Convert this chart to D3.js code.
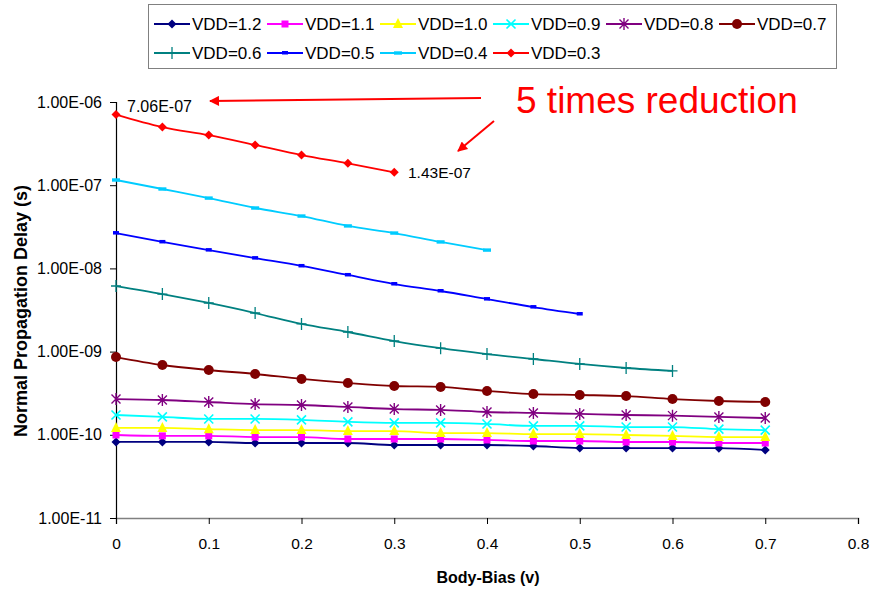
<!DOCTYPE html>
<html>
<head>
<meta charset="utf-8">
<script src="https://cdn.jsdelivr.net/npm/d3@7"></script>
<style>
body { margin: 0; background: #fff; }
text { font-family: "Liberation Sans", Arial, sans-serif; }
</style>
</head>
<body>
<div id="chart"></div>
<script>
var svgWidth = 874;
var svgHeight = 591;

// data
var bodyBias = [0, 0.05, 0.1, 0.15, 0.2, 0.25, 0.3, 0.35, 0.4, 0.45, 0.5, 0.55, 0.6, 0.65, 0.7];
var seriesNames = ["VDD=1.2", "VDD=1.1", "VDD=1.0", "VDD=0.9", "VDD=0.8", "VDD=0.7",
                   "VDD=0.6", "VDD=0.5", "VDD=0.4", "VDD=0.3"];
var vdd12 = [8.2e-11, 8.2e-11, 8.2e-11, 7.97e-11, 7.97e-11, 7.97e-11, 7.54e-11, 7.54e-11, 7.54e-11, 7.33e-11, 6.93e-11, 6.93e-11, 6.93e-11, 6.9e-11, 6.56e-11];
var vdd11 = [9.95e-11, 9.7e-11, 9.7e-11, 9.4e-11, 9.4e-11, 8.9e-11, 8.9e-11, 8.9e-11, 8.67e-11, 8.42e-11, 8.42e-11, 8.19e-11, 8.19e-11, 7.97e-11, 7.97e-11];
var vdd10 = [1.21e-10, 1.21e-10, 1.17e-10, 1.14e-10, 1.14e-10, 1.11e-10, 1.11e-10, 1.05e-10, 1.05e-10, 1.02e-10, 1.02e-10, 9.95e-11, 9.7e-11, 9.4e-11, 9.4e-11];
var vdd09 = [1.73e-10, 1.64e-10, 1.55e-10, 1.55e-10, 1.51e-10, 1.43e-10, 1.39e-10, 1.39e-10, 1.35e-10, 1.28e-10, 1.28e-10, 1.24e-10, 1.24e-10, 1.17e-10, 1.14e-10];
var vdd08 = [2.69e-10, 2.62e-10, 2.48e-10, 2.34e-10, 2.28e-10, 2.16e-10, 2.04e-10, 1.99e-10, 1.88e-10, 1.83e-10, 1.78e-10, 1.73e-10, 1.70e-10, 1.64e-10, 1.59e-10];
var vdd07 = [8.61e-10, 6.9e-10, 6.01e-10, 5.38e-10, 4.69e-10, 4.2e-10, 3.86e-10, 3.76e-10, 3.36e-10, 3.09e-10, 3.01e-10, 2.92e-10, 2.69e-10, 2.55e-10, 2.48e-10];
var vdd06 = [6.14e-9, 4.92e-9, 3.84e-9, 2.91e-9, 2.15e-9, 1.72e-9, 1.34e-9, 1.1e-9, 9.35e-10, 8.15e-10, 7.1e-10, 6.35e-10, 5.85e-10];
var vdd05 = [2.66e-8, 2.08e-8, 1.66e-8, 1.33e-8, 1.07e-8, 8.34e-9, 6.49e-9, 5.35e-9, 4.28e-9, 3.43e-9, 2.83e-9];
var vdd04 = [1.155e-7, 9.0e-8, 7.0e-8, 5.32e-8, 4.26e-8, 3.24e-8, 2.66e-8, 2.08e-8, 1.66e-8];
var vdd03 = [7.06e-7, 5.0e-7, 4.0e-7, 3.05e-7, 2.3e-7, 1.83e-7, 1.43e-7];

var xTicks = [0, 0.1, 0.2, 0.3, 0.4, 0.5, 0.6, 0.7, 0.8];
var yTicks = [1e-11, 1e-10, 1e-9, 1e-8, 1e-7, 1e-6];
var yTickLabels = ["1.00E-11", "1.00E-10", "1.00E-09", "1.00E-08", "1.00E-07", "1.00E-06"];

var allSeries = [vdd12, vdd11, vdd10, vdd09, vdd08, vdd07, vdd06, vdd05, vdd04, vdd03];
var colors = ["#000080", "#FF00FF", "#FFFF00", "#00FFFF", "#800080", "#800000",
              "#008080", "#0000FF", "#00CCFF", "#FF0000"];
var markers = ["diamond", "square", "triangle", "x", "star", "circle", "plus", "dash", "wdash", "diamond"];

var svg = d3.select("#chart")
  .append("svg")
  .attr("width", svgWidth)
  .attr("height", svgHeight);

var xScale = d3.scaleLinear().domain([0, 0.8]).range([116, 858]);
var yScale = d3.scaleLog().domain([1e-11, 1e-6]).range([518, 102]);

// axes
var xAxis = svg.append("g")
  .attr("transform", "translate(0,518)")
  .call(d3.axisBottom(xScale).tickValues(xTicks).tickSize(6).tickPadding(14)
    .tickFormat(d => d === 0 ? "0" : d3.format(".1f")(d)));
xAxis.select(".domain").attr("stroke", "#808080").attr("stroke-width", 1.5);
xAxis.selectAll(".tick line").attr("stroke", "#000");
xAxis.selectAll("text").attr("font-size", 15.5).attr("fill", "#000")
  .style("font-family", "'Liberation Sans', Arial, sans-serif");

var yAxis = svg.append("g")
  .attr("transform", "translate(116,0)")
  .call(d3.axisLeft(yScale).tickValues(yTicks).tickSize(6).tickPadding(8)
    .tickFormat((d, i) => yTickLabels[i]));
yAxis.select(".domain").attr("stroke", "#000").attr("stroke-width", 1.2);
yAxis.selectAll("text").attr("font-size", 16).attr("fill", "#000")
  .style("font-family", "'Liberation Sans', Arial, sans-serif");

// axis titles
svg.append("text")
  .attr("x", 488).attr("y", 583)
  .attr("text-anchor", "middle")
  .attr("font-size", 16).attr("font-weight", "bold")
  .text("Body-Bias (v)");

svg.append("text")
  .attr("transform", "translate(27,311) rotate(-90)")
  .attr("text-anchor", "middle")
  .attr("font-size", 18).attr("font-weight", "bold")
  .text("Normal Propagation Delay (s)");

function drawMarker(g, type, color) {
  if (type === "diamond") {
    g.append("path").attr("d", "M0,-4.5L4.5,0L0,4.5L-4.5,0Z").attr("fill", color);
  } else if (type === "square") {
    g.append("rect").attr("x", -3.5).attr("y", -3.5).attr("width", 7).attr("height", 7).attr("fill", color);
  } else if (type === "triangle") {
    g.append("path").attr("d", "M0,-6L5,4L-5,4Z").attr("fill", color);
  } else if (type === "x") {
    g.append("path").attr("d", "M-4.5,-4.5L4.5,4.5M-4.5,4.5L4.5,-4.5")
      .attr("stroke", color).attr("stroke-width", 1.6);
  } else if (type === "star") {
    g.append("path").attr("d", "M-4.5,-4.5L4.5,4.5M-4.5,4.5L4.5,-4.5M0,-6L0,6")
      .attr("stroke", color).attr("stroke-width", 1.4);
  } else if (type === "circle") {
    g.append("circle").attr("r", 5).attr("fill", color);
  } else if (type === "plus") {
    g.append("path").attr("d", "M-5,0L5,0M0,-6L0,6")
      .attr("stroke", color).attr("stroke-width", 1.3);
  } else if (type === "dash") {
    g.append("rect").attr("x", -3).attr("y", -2).attr("width", 6).attr("height", 3.5).attr("fill", color);
  } else if (type === "wdash") {
    g.append("rect").attr("x", -4).attr("y", -1.7).attr("width", 8).attr("height", 3.4).attr("fill", color);
  }
}

var line = d3.line()
  .x(d => xScale(d.x))
  .y(d => yScale(d.y))
  .curve(d3.curveMonotoneX);

allSeries.forEach(function(vals, i) {
  var pts = vals.map((v, j) => ({x: bodyBias[j], y: v}));
  svg.append("path")
    .datum(pts)
    .attr("d", line)
    .attr("fill", "none")
    .attr("stroke", colors[i])
    .attr("stroke-width", 1.8);
  svg.selectAll(null).data(pts).enter()
    .append("g")
    .attr("transform", d => `translate(${xScale(d.x)},${yScale(d.y)})`)
    .each(function() { drawMarker(d3.select(this), markers[i], colors[i]); });
});

// legend
var legend = svg.append("g");
legend.append("rect")
  .attr("x", 148.5).attr("y", 4.5).attr("width", 688).attr("height", 64)
  .attr("fill", "#fff").attr("stroke", "#808080").attr("stroke-width", 1);

seriesNames.forEach(function(name, i) {
  var col = i % 6, row = Math.floor(i / 6);
  var lx = 154 + col * 113, ly = 24 + row * 29;
  var item = legend.append("g").attr("transform", `translate(${lx},${ly})`);
  item.append("line").attr("x1", 0).attr("x2", 36).attr("y1", 0).attr("y2", 0)
    .attr("stroke", colors[i]).attr("stroke-width", 1.8);
  var m = item.append("g").attr("transform", "translate(18,0)");
  drawMarker(m, markers[i], colors[i]);
  item.append("text").attr("x", 38).attr("y", 5.5)
    .attr("font-size", 17).text(name);
});

// annotations
var defs = svg.append("defs");
defs.append("marker")
  .attr("id", "arrow").attr("viewBox", "0 0 10 10")
  .attr("refX", 9).attr("refY", 5)
  .attr("markerWidth", 6).attr("markerHeight", 5)
  .attr("markerUnits", "strokeWidth")
  .attr("orient", "auto")
  .append("path").attr("d", "M0,0L10,5L0,10Z").attr("fill", "#FF0000");

svg.append("text")
  .attr("x", xScale(0) + 11).attr("y", 112)
  .attr("font-size", 16)
  .text("7.06E-07");

svg.append("text")
  .attr("x", 408).attr("y", 178)
  .attr("font-size", 15.5)
  .text("1.43E-07");

svg.append("line")
  .attr("x1", 481).attr("y1", 98).attr("x2", 210).attr("y2", 101)
  .attr("stroke", "#FF0000").attr("stroke-width", 2)
  .attr("marker-end", "url(#arrow)");

svg.append("line")
  .attr("x1", 494).attr("y1", 121).attr("x2", 458).attr("y2", 151)
  .attr("stroke", "#FF0000").attr("stroke-width", 2)
  .attr("marker-end", "url(#arrow)");

svg.append("text")
  .attr("x", 516).attr("y", 113)
  .attr("font-size", 37).attr("fill", "#FF0000")
  .text("5 times reduction");
</script>
</body>
</html>
